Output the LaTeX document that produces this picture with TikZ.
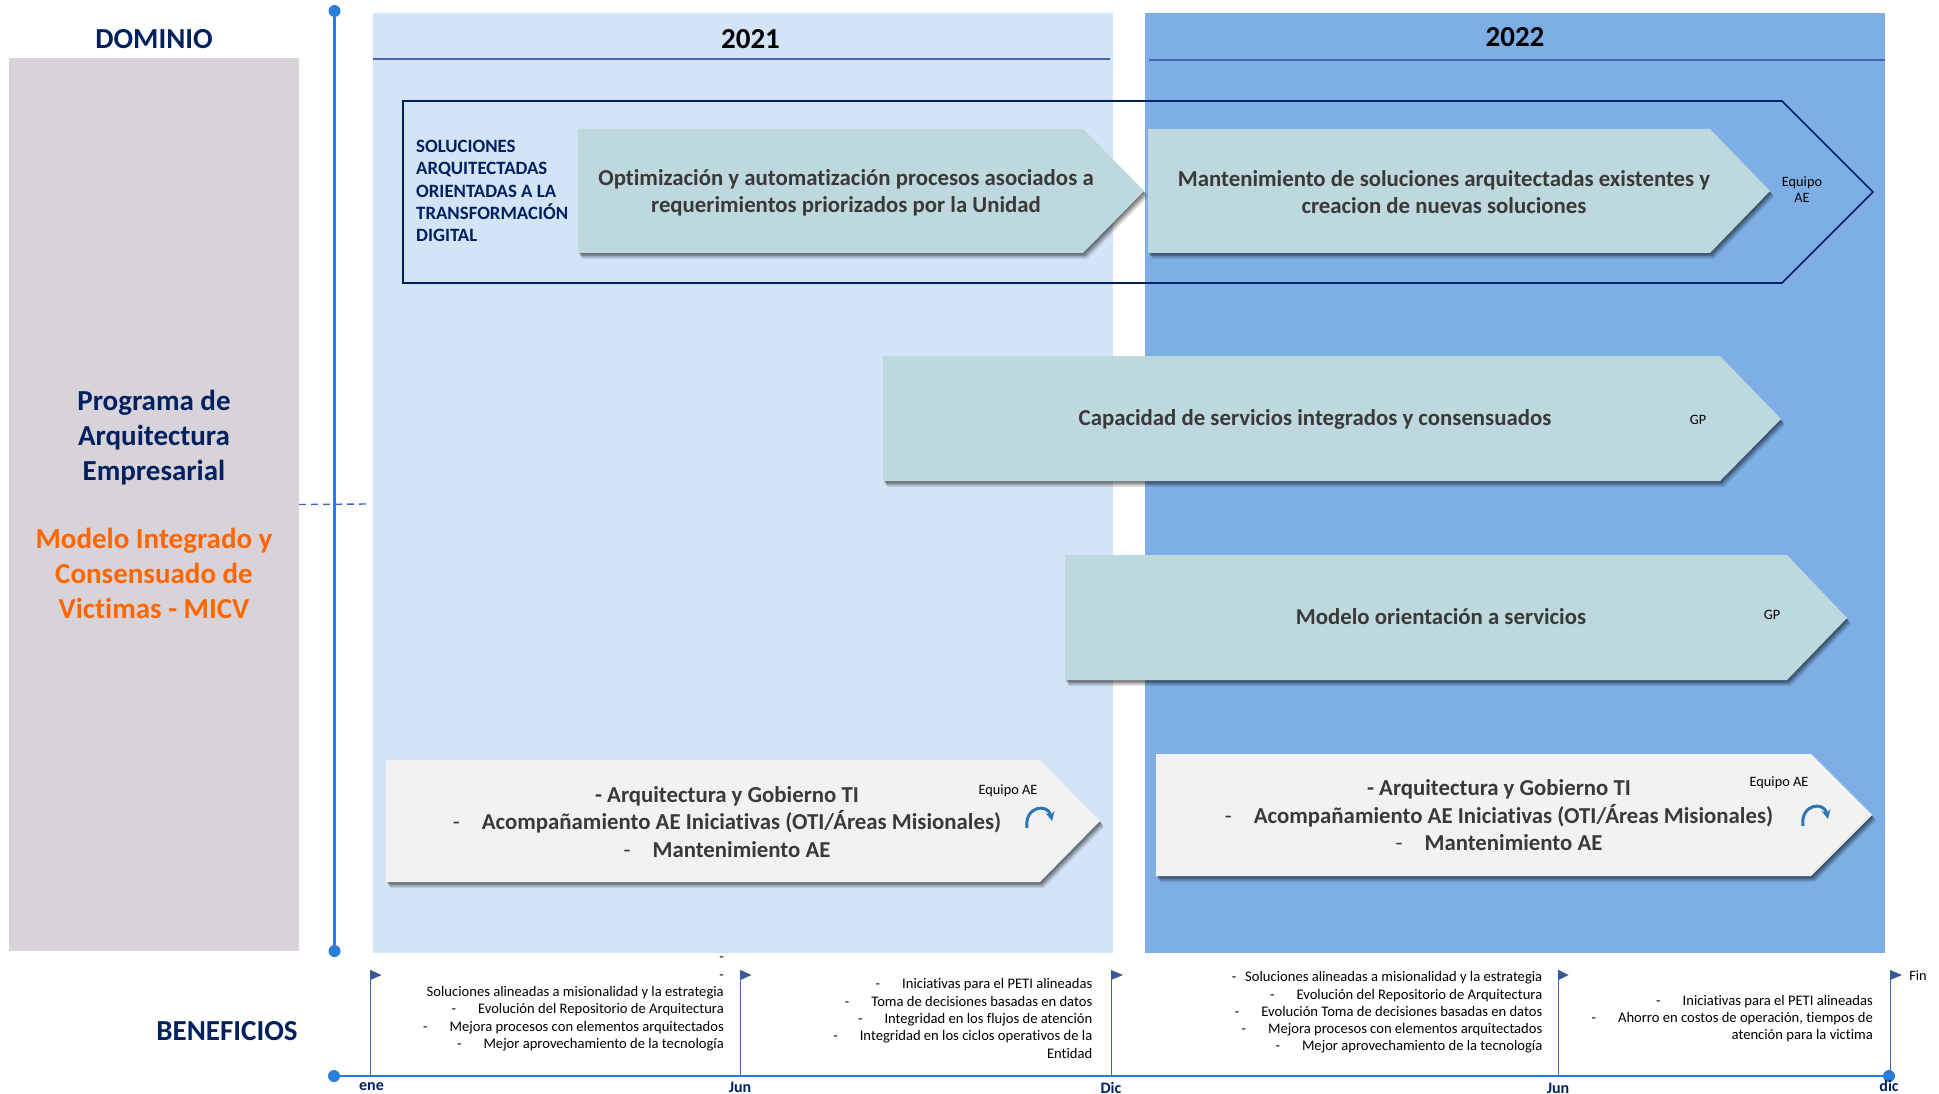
\documentclass[tikz,border=0pt]{standalone}
\usepackage{fontspec}
\setmainfont{Carlito}[Ligatures=NoCommon]
\usetikzlibrary{arrows, positioning, shadows}
\definecolor{azulcito}{RGB}{211,228,246}
\definecolor{azulote}{RGB}{125,175,230}
\definecolor{azulmarino}{RGB}{0,32,96}
\definecolor{azullinea}{RGB}{42,125,216}
\definecolor{azulregla}{RGB}{68,102,176}
\definecolor{grisito}{RGB}{216,211,217}
\definecolor{verdecito}{RGB}{189,217,222}
\definecolor{blanquito}{RGB}{242,242,242}
\definecolor{naranjita}{RGB}{255,102,0}
\definecolor{oscurito}{RGB}{59,56,56}
\definecolor{flechita}{RGB}{46,117,182}
\newcommand{\tam}[2]{\fontsize{#1}{#2}\selectfont}
\newcommand{\guion}{\textmd{-}\hspace{22pt}}
\tikzset{>=stealth, x=1pt, y=-1pt, every node/.style={inner sep=0pt},
	sombrita/.style={
		drop shadow={shadow xshift=4pt,shadow yshift=-6pt,opacity=.10,fill=black},
		drop shadow={shadow xshift=3pt,shadow yshift=-4.5pt,opacity=.16,fill=black},
		drop shadow={shadow xshift=2pt,shadow yshift=-3pt,opacity=.20,fill=black},
		drop shadow={shadow xshift=1pt,shadow yshift=-1.5pt,opacity=.20,fill=black}},
	flechaverde/.style={fill=verdecito,sombrita},
	flechablanca/.style={fill=blanquito,sombrita},
	titulo/.style={font=\bfseries\tam{29}{35},text=azulmarino},
	textoverde/.style={font=\bfseries\tam{22.8}{27},text=oscurito,align=center},
	textoblanco/.style={font=\bfseries\tam{22.8}{27.5},text=oscurito,align=center},
	chiquito/.style={font=\tam{14.3}{16},text=black,align=center},
	beneficio/.style={font=\tam{14.6}{17.3},text=black,align=right,anchor=east},
	fecha/.style={font=\bfseries\tam{16}{18},text=azulmarino},
	punto/.style={circle,fill=azullinea,minimum size=12pt},
	linea/.style={azullinea,line width=2.2pt},
	regla/.style={azulregla,line width=1pt},
	banderita/.style={fill=azulregla!85!black},
	giro/.style={flechita,line width=3pt,->}
}

\begin{document}
\begin{tikzpicture}
	\useasboundingbox (0,0) rectangle (1939,1094);

	% paneles de los anios
	\fill [azulcito] (373,13.5) rectangle (1113,953);
	\fill [azulote] (1145,13.5) rectangle (1885,953);
	\draw [azulregla,line width=2pt] (373,59.5) -- (1110,59.5);
	\draw [azulregla,line width=2pt] (1149,60) -- (1885,60);
	\node (anio1) [font=\bfseries\tam{29}{35}] at (750.5,39) {2021};
	\node (anio2) [font=\bfseries\tam{29}{35}] at (1515,37) {2022};

	% columna de dominio
	\node (dominio) [titulo] at (154,39) {DOMINIO};
	\node (caja) [fill=grisito,minimum width=290pt,minimum height=892pt,titulo,align=center] at (154,504.5) {Programa de\\Arquitectura\\Empresarial\\[33.5pt]\textcolor{naranjita}{Modelo Integrado y}\\\textcolor{naranjita}{Consensuado de}\\\textcolor{naranjita}{Victimas - MICV}};
	\node (puntoA) [punto] at (334.5,11) {};
	\node (puntoB) [punto] at (334.5,951) {};
	\draw [linea] (puntoA) -- (puntoB);
	\coordinate (finCaja) at (368,504);
	\draw [azulregla,line width=1.4pt,dash pattern=on 7pt off 5pt] (caja.east) -- (finCaja);

	% soluciones
	\draw [azulmarino,line width=1.6pt] (403,101) -- (1782,101) -- (1873,192) -- (1782,283) -- (403,283) -- cycle;
	\node (soluciones) [font=\bfseries\tam{18.8}{22.4},text=azulmarino,align=left,anchor=west] at (416,191) {SOLUCIONES\\ARQUITECTADAS\\ORIENTADAS A LA\\TRANSFORMACIÓN\\DIGITAL};

	\fill [flechaverde] (578,129) -- (1083,129) -- (1144,191) -- (1083,253) -- (578,253) -- cycle;
	\node (optimiza) [textoverde] at (846,192.5) {Optimización y automatización procesos asociados a\\requerimientos priorizados por la Unidad};
	\fill [flechaverde] (1148,129) -- (1710,129) -- (1770,191) -- (1710,253) -- (1148,253) -- cycle;
	\node (mantiene) [textoverde] at (1444,192) {Mantenimiento de soluciones arquitectadas existentes y\\creacion de nuevas soluciones};
	\node (equipo1) [chiquito] at (1802,190) {Equipo\\AE};

	\fill [flechaverde] (883,356) -- (1720,356) -- (1781,419) -- (1720,481) -- (883,481) -- cycle;
	\node (capacidad) [textoverde] at (1315,419.5) {Capacidad de servicios integrados y consensuados};
	\node (gp1) [chiquito] at (1698,420) {GP};

	\fill [flechaverde] (1065,555) -- (1787,555) -- (1847,618) -- (1787,680) -- (1065,680) -- cycle;
	\node (modelo) [textoverde] at (1441,617) {Modelo orientación a servicios};
	\node (gp2) [chiquito] at (1772,615) {GP};

	% arquitectura y gobierno
	\fill [flechablanca] (386,760) -- (1040,760) -- (1100,821) -- (1040,882) -- (386,882) -- cycle;
	\node (gobierno1) [textoblanco] at (727,822) {- Arquitectura y Gobierno TI\\\guion Acompañamiento AE Iniciativas (OTI/Áreas Misionales)\\\guion Mantenimiento AE};
	\node (equipo2) [chiquito] at (1008,791) {Equipo AE};
	\draw [giro] (1027,828) .. controls (1024,806) and (1048,803) .. (1052,821);

	\fill [flechablanca] (1156,754) -- (1811,754) -- (1872,815) -- (1811,876) -- (1156,876) -- cycle;
	\node (gobierno2) [textoblanco] at (1499,815.5) {- Arquitectura y Gobierno TI\\\guion Acompañamiento AE Iniciativas (OTI/Áreas Misionales)\\\guion Mantenimiento AE};
	\node (equipo3) [chiquito] at (1779,783) {Equipo AE};
	\draw [giro] (1803,826) .. controls (1800,804) and (1824,801) .. (1828,819);

	% beneficios
	\node (beneficios) [titulo] at (227,1031) {BENEFICIOS};
	\node (puntoC) [punto] at (334,1076) {};
	\node (puntoD) [punto] at (1889,1076) {};
	\draw [linea] (puntoC) -- (puntoD);

	\coordinate (marca1) at (370.5,970);
	\coordinate (marca2) at (740.5,970);
	\coordinate (marca3) at (1111,970);
	\coordinate (marca4) at (1558.5,970);
	\coordinate (marca5) at (1890,970);
	\draw [regla] (marca1) -- (marca1 |- puntoC);
	\draw [regla] (marca2) -- (marca2 |- puntoC);
	\draw [regla] (marca3) -- (marca3 |- puntoC);
	\draw [regla] (marca4) -- (marca4 |- puntoC);
	\draw [regla] (marca5) -- (marca5 |- puntoC);
	\fill [banderita] (marca1) -- ++(11,5) -- ++(-11,5) -- cycle;
	\fill [banderita] (marca2) -- ++(11,5) -- ++(-11,5) -- cycle;
	\fill [banderita] (marca3) -- ++(12,5) -- ++(-12,5) -- cycle;
	\fill [banderita] (marca4) -- ++(10,5) -- ++(-10,5) -- cycle;
	\fill [banderita] (marca5) -- ++(12,5) -- ++(-12,5) -- cycle;

	\node (ene) [fecha] at (371.5,1086.5) {ene};
	\node (jun1) [fecha] at (740,1087) {Jun};
	\node (dic1) [fecha] at (1111,1088) {Dic};
	\node (jun2) [fecha] at (1558,1088) {Jun};
	\node (dic2) [fecha] at (1889,1086) {dic};
	\node (fin) [font=\tam{14.3}{16}] at (1918,976) {Fin};

	\node (beneficio1) [beneficio] at (724,1004) {-\\-\\Soluciones alineadas a misionalidad y la estrategia\\\guion Evolución del Repositorio de Arquitectura\\\guion Mejora procesos con elementos arquitectados\\\guion Mejor aprovechamiento de la tecnología};
	\node (beneficio2) [beneficio] at (1092.5,1018.5) {\guion Iniciativas para el PETI alineadas\\\guion Toma de decisiones basadas en datos\\\guion Integridad en los flujos de atención\\\guion Integridad en los ciclos operativos de la\\Entidad};
	\node (beneficio3) [beneficio] at (1542.5,1012.5) {-\hspace{9pt}Soluciones alineadas a misionalidad y la estrategia\\\guion Evolución del Repositorio de Arquitectura\\\guion Evolución Toma de decisiones basadas en datos\\\guion Mejora procesos con elementos arquitectados\\\guion Mejor aprovechamiento de la tecnología};
	\node (beneficio4) [beneficio] at (1873,1018.5) {\guion Iniciativas para el PETI alineadas\\\guion Ahorro en costos de operación, tiempos de\\atención para la victima};
\end{tikzpicture}
\end{document}
